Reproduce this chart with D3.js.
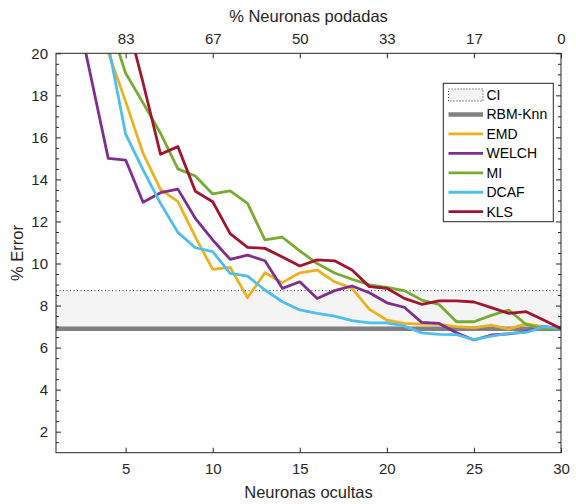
<!DOCTYPE html>
<html>
<head>
<meta charset="utf-8">
<script src="https://cdn.jsdelivr.net/npm/d3@7"></script>
<style>
  html, body { margin: 0; padding: 0; background: #fff; }
  svg { display: block; font-family: "Liberation Sans", Arial, Helvetica, sans-serif; }
</style>
</head>
<body>
<svg id="chart" width="576" height="504"></svg>
<script>
// Hidden-neuron counts (bottom axis)
const neurons = [1,2,3,4,5,6,7,8,9,10,11,12,13,14,15,16,17,18,19,20,21,22,23,24,25,26,27,28,29,30];

// % error per pruning method
const emd   = [30,27,23.5,20.05,17.7,15.24,13.53,12.94,11.27,9.72,9.82,8.37,9.56,9.09,9.56,9.69,9.13,8.82,7.82,7.31,7.15,7.12,7.1,7.0,6.95,7.07,6.88,7.13,7.0,6.9];
const welch = [27,22.8,18.9,15.0,14.92,12.91,13.37,13.54,12.15,11.12,10.2,10.4,10.13,8.82,9.13,8.34,8.71,8.93,8.61,8.13,7.92,7.2,7.15,6.71,6.36,6.6,6.65,6.76,7.0,6.9];
const mi    = [30,27,24,21.6,19.05,17.64,16.2,14.5,14.16,13.31,13.46,12.86,11.12,11.25,10.6,10.0,9.55,9.25,8.98,8.86,8.71,8.26,8.05,7.23,7.23,7.53,7.79,7.1,6.9,6.9];
const dcaf  = [30,27,23.5,20.4,16.15,14.45,12.86,11.48,10.75,10.56,9.53,9.4,8.74,8.18,7.79,7.63,7.5,7.28,7.18,7.18,7.03,6.7,6.63,6.62,6.38,6.55,6.68,6.72,7.0,6.9];
const kls   = [32,29,26,24,21.8,18.6,15.2,15.56,13.44,12.94,11.42,10.77,10.72,10.31,9.88,10.17,10.13,9.69,8.9,8.82,8.34,8.06,8.22,8.22,8.17,7.9,7.63,7.71,7.31,6.9];

// Reference model error and its confidence interval
const rbmKnn = 6.9;
const ciBounds = [6.9, 8.71];

// Axis ticks
const xTicks = [5,10,15,20,25,30];
const prunedLabels = ["83","67","50","33","17","0"];
const yTicks = [2,4,6,8,10,12,14,16,18,20];

const seriesNames  = ["EMD","WELCH","MI","DCAF","KLS"];
const seriesValues = [emd, welch, mi, dcaf, kls];
const seriesColors = ["#EDB120","#7E2F8E","#77AC30","#4DBEEE","#A2142F"];

const svg = d3.select("#chart");
const pLeft = 56, pRight = 561, pTop = 53.3, pBottom = 452.7;
const axisColor = "#262626";

const x = d3.scaleLinear().domain([1, 30]).range([pLeft, pRight]);
const y = d3.scaleLinear().domain([1, 20]).range([pBottom, pTop]);

svg.append("defs").append("clipPath").attr("id", "plotClip")
  .append("rect").attr("x", pLeft).attr("y", pTop)
  .attr("width", pRight - pLeft).attr("height", pBottom - pTop);

const plot = svg.append("g").attr("clip-path", "url(#plotClip)");

// Confidence interval band
plot.append("rect")
  .attr("x", x(1)).attr("width", x(30) - x(1))
  .attr("y", y(ciBounds[1])).attr("height", y(ciBounds[0]) - y(ciBounds[1]))
  .attr("fill", "#f4f4f4")
  .attr("stroke", "#333").attr("stroke-width", 1)
  .attr("stroke-dasharray", "1,2.5");

// RBM-Knn reference line
plot.append("line")
  .attr("x1", x(1)).attr("x2", x(30))
  .attr("y1", y(rbmKnn)).attr("y2", y(rbmKnn))
  .attr("stroke", "#808080").attr("stroke-width", 4.5);

const line = d3.line().x((d, i) => x(neurons[i])).y(d => y(d));
seriesValues.forEach((vals, k) => {
  plot.append("path")
    .datum(vals)
    .attr("d", line)
    .attr("fill", "none")
    .attr("stroke", seriesColors[k])
    .attr("stroke-width", 2.8)
    .attr("stroke-linejoin", "round");
});

// Axes (MATLAB-style inward ticks)
function styleAxis(g) {
  g.select(".domain").remove();
  g.selectAll("line").attr("stroke", axisColor);
  g.selectAll("text").attr("fill", axisColor).attr("font-size", 15);
}

const xBottom = d3.axisBottom(x).tickValues(xTicks).tickSize(-5).tickPadding(11).tickFormat(d3.format("d"));
svg.append("g").attr("transform", `translate(0,${pBottom})`).call(xBottom).call(styleAxis);

const xTop = d3.axisTop(x).tickValues(xTicks).tickSize(-5).tickPadding(9)
  .tickFormat((d, i) => prunedLabels[i]);
svg.append("g").attr("transform", `translate(0,${pTop})`).call(xTop).call(styleAxis);

const yMinor = d3.range(1.5, 20, 0.5).filter(v => v % 2 !== 0);
const yLeft = d3.axisLeft(y).tickValues(yTicks).tickSize(-5).tickPadding(8);
svg.append("g").attr("transform", `translate(${pLeft},0)`).call(yLeft).call(styleAxis);
svg.append("g").attr("transform", `translate(${pLeft},0)`)
  .call(d3.axisLeft(y).tickValues(yMinor).tickSize(-3).tickFormat(""))
  .call(styleAxis);

svg.append("g").attr("transform", `translate(${pRight},0)`)
  .call(d3.axisRight(y).tickValues(yTicks).tickSize(-5).tickFormat(""))
  .call(styleAxis);
svg.append("g").attr("transform", `translate(${pRight},0)`)
  .call(d3.axisRight(y).tickValues(yMinor).tickSize(-3).tickFormat(""))
  .call(styleAxis);

// Box
svg.append("rect")
  .attr("x", pLeft).attr("y", pTop)
  .attr("width", pRight - pLeft).attr("height", pBottom - pTop)
  .attr("fill", "none").attr("stroke", axisColor).attr("stroke-width", 1);

// Axis titles
const midX = (pLeft + pRight) / 2;
svg.append("text").attr("x", midX).attr("y", 498)
  .attr("text-anchor", "middle").attr("font-size", 16.5).attr("fill", axisColor)
  .text("Neuronas ocultas");
svg.append("text").attr("x", midX).attr("y", 21.5)
  .attr("text-anchor", "middle").attr("font-size", 16.5).attr("fill", axisColor)
  .text("% Neuronas podadas");
svg.append("text")
  .attr("transform", `translate(23,${(pTop + pBottom) / 2}) rotate(-90)`)
  .attr("text-anchor", "middle").attr("font-size", 16.5).attr("fill", axisColor)
  .text("% Error");

// Legend
const lg = svg.append("g");
const lgX = 443.3, lgY = 83.3, lgW = 110, lgH = 138.4, rowH = 19.45, row0 = 95;
lg.append("rect").attr("x", lgX).attr("y", lgY).attr("width", lgW).attr("height", lgH)
  .attr("fill", "#fff").attr("stroke", axisColor).attr("stroke-width", 1);

const legendItems = [
  { name: "CI", type: "band" },
  { name: "RBM-Knn", type: "line", color: "#808080", width: 4.5 }
].concat(seriesNames.map((n, i) => ({ name: n, type: "line", color: seriesColors[i], width: 2.8 })));

legendItems.forEach((it, i) => {
  const cy = row0 + i * rowH;
  if (it.type === "band") {
    lg.append("rect").attr("x", 448.5).attr("y", cy - 6).attr("width", 34.5).attr("height", 12)
      .attr("fill", "#f4f4f4").attr("stroke", "#333").attr("stroke-width", 1)
      .attr("stroke-dasharray", "1,2");
  } else {
    lg.append("line").attr("x1", 448.5).attr("x2", 483).attr("y1", cy).attr("y2", cy)
      .attr("stroke", it.color).attr("stroke-width", it.width);
  }
  lg.append("text").attr("x", 486.5).attr("y", cy).attr("dy", "0.36em")
    .attr("font-size", 14).attr("fill", "#000").text(it.name);
});
</script>
</body>
</html>
